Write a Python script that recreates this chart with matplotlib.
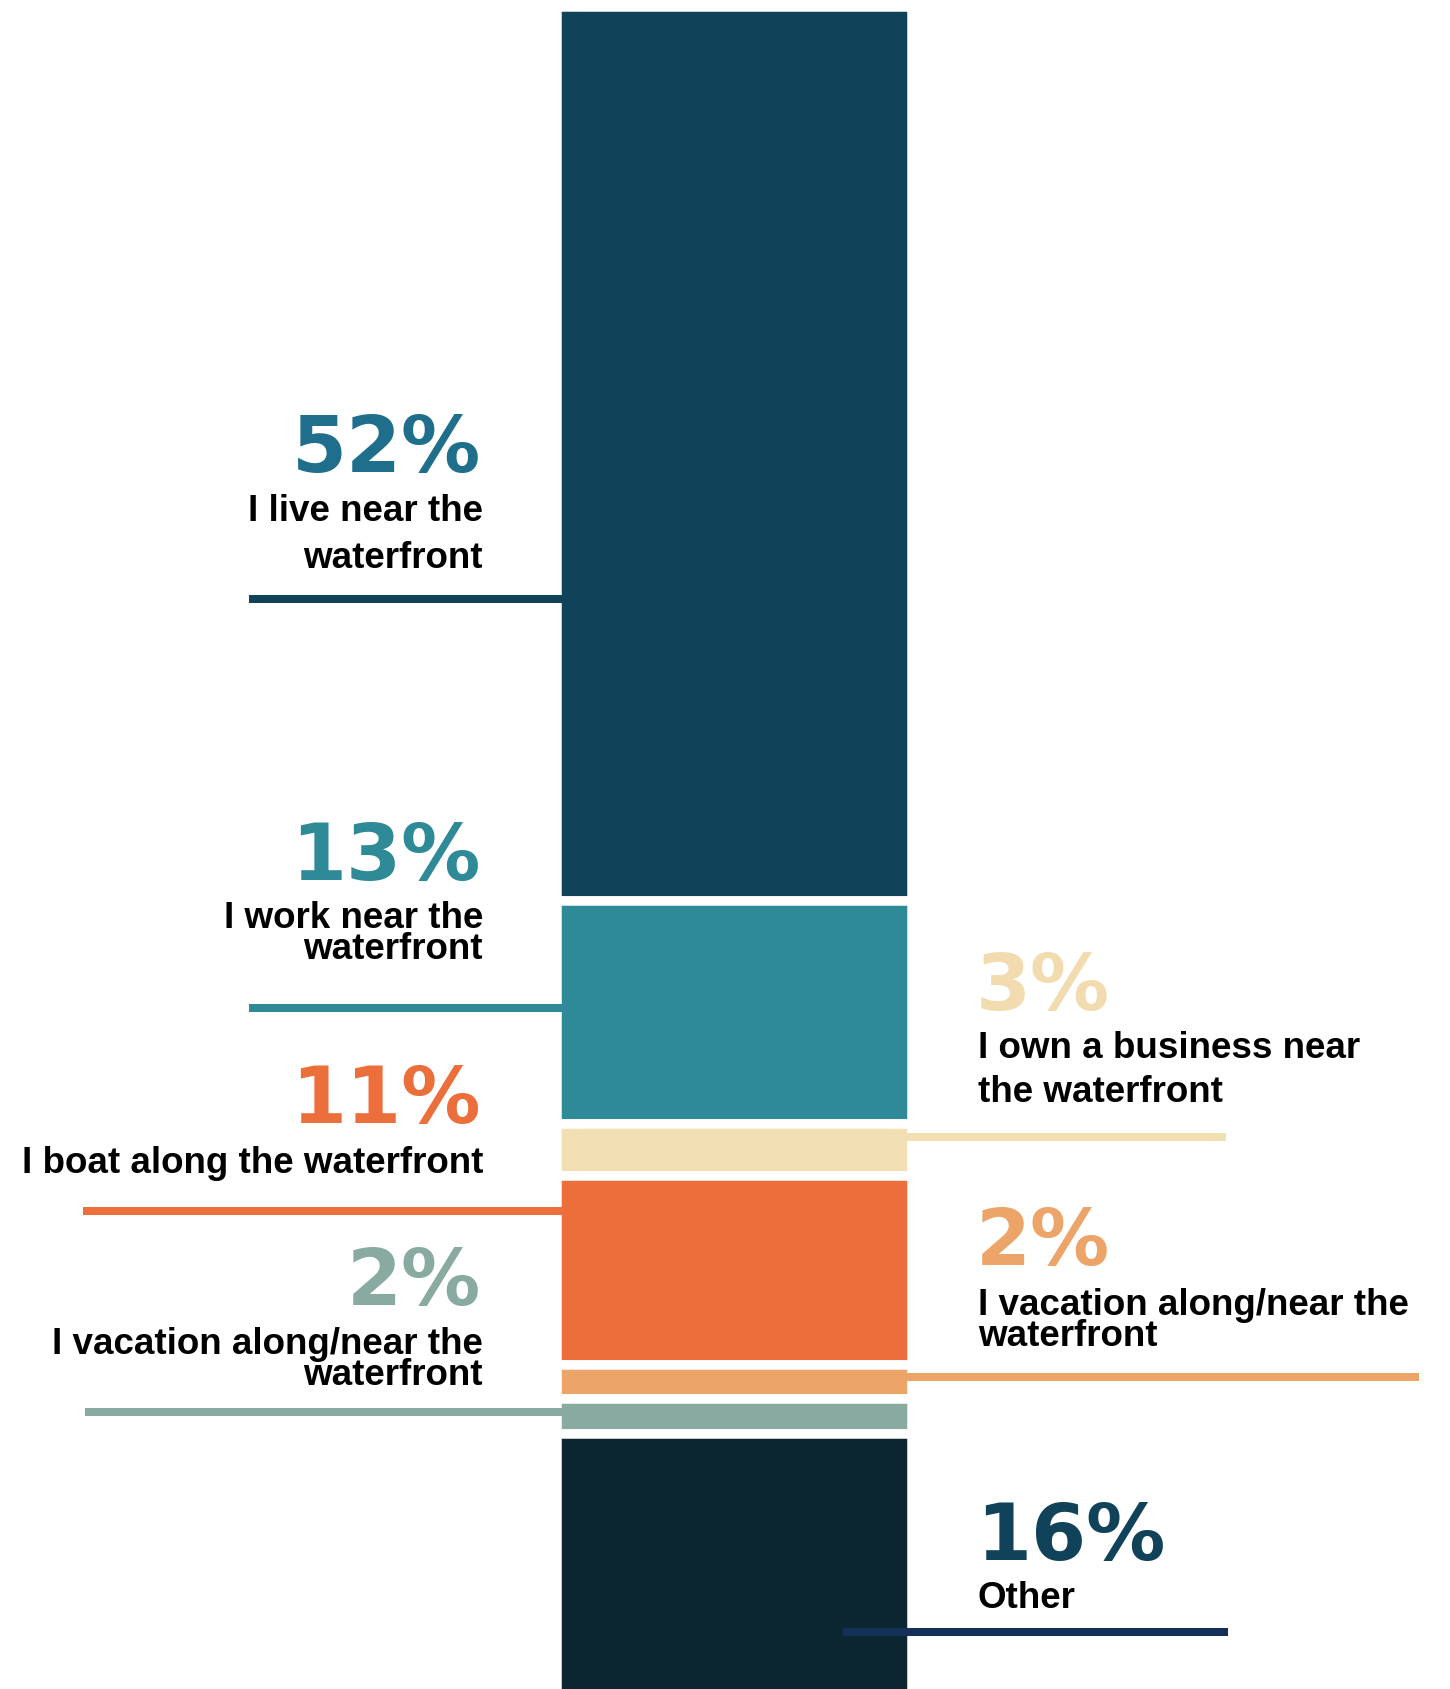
import matplotlib.pyplot as plt

# share of respondents, top of the bar to the bottom
values = [52, 13, 3, 11, 2, 2, 16]
pct_labels = ["52%", "13%", "3%", "11%", "2%", "2%", "16%"]
labels = ["I live near the\nwaterfront",
          "I work near the\nwaterfront",
          "I own a business near\nthe waterfront",
          "I boat along the waterfront",
          "I vacation along/near the\nwaterfront",
          "I vacation along/near the\nwaterfront",
          "Other"]
sides = ["left", "left", "right", "left", "right", "left", "right"]

bar_colors = ["#10425a", "#2e8a97", "#f2dfb4", "#eb6e3b", "#eca468", "#88aaa0", "#0b2531"]
pct_colors = ["#1f6e8c", "#2e8a97", "#f2dcaf", "#eb6e3b", "#eca468", "#88aaa0", "#10425a"]
line_colors = ["#10425a", "#2e8a97", "#f2dfb4", "#eb6e3b", "#eca468", "#88aaa0", "#12305a"]

# where each leader line sits inside its segment, its x span (px),
# and text offsets above the line (px)
layout = [
    dict(frac=0.662, span=(249, 562), pct_dy=128, lab_dy=79, lsp=47),
    dict(frac=0.479, span=(249, 562), pct_dy=129, lab_dy=81, lsp=31),
    dict(frac=0.246, span=(907, 1226), pct_dy=128, lab_dy=80, lsp=44),
    dict(frac=0.185, span=(83, 562), pct_dy=89, lab_dy=39, lsp=0),
    dict(frac=0.35, span=(907, 1419), pct_dy=113, lab_dy=63, lsp=31),
    dict(frac=0.367, span=(85, 562), pct_dy=108, lab_dy=59, lsp=31),
    dict(frac=0.72, span=(843, 1228), pct_dy=73, lab_dy=25, lsp=0),
]

plt.rcParams['font.family'] = ['Liberation Sans', 'DejaVu Sans']

W, H = 1450, 1690
px_per_pct = 17.19
top_px = 8

fig = plt.figure(figsize=(W / 100, H / 100), dpi=100)
ax = fig.add_axes([0, 0, 1, 1])
ax.set_xlim(0, W)
ax.set_ylim((H - top_px) / px_per_pct, -top_px / px_per_pct)
ax.axis('off')

gap = 9.5 * 72 / 100  # white gap between segments, in points
bottoms = []
b = 0
for v, c in zip(values, bar_colors):
    ax.bar(734.5, v, bottom=b, width=354.5, color=c, edgecolor='white', linewidth=gap, zorder=1)
    bottoms.append(b)
    b += v

def px(d):
    return d / px_per_pct

for i in range(len(values)):
    L = layout[i]
    y = bottoms[i] + L['frac'] * values[i]
    ax.plot(L['span'], [y, y], color=line_colors[i], lw=8 * 0.72,
            solid_capstyle='butt', zorder=2)
    if sides[i] == "left":
        xt, ha = 481, 'right'
    else:
        xt, ha = 976, 'left'
    ax.text(xt, y - px(L['pct_dy']), pct_labels[i], color=pct_colors[i],
            fontsize=57, fontweight='bold', family='DejaVu Sans', ha=ha, va='baseline')
    lines = labels[i].split("\n")
    for j, s in enumerate(lines):
        yy = y - px(L['lab_dy']) + px(L['lsp']) * j
        ax.text(xt + (2 if ha == 'right' else 2), yy, s, color='black',
                fontsize=26.5, fontweight='bold', ha=ha, va='baseline')

fig.savefig('out.png', dpi=100, facecolor='white')
